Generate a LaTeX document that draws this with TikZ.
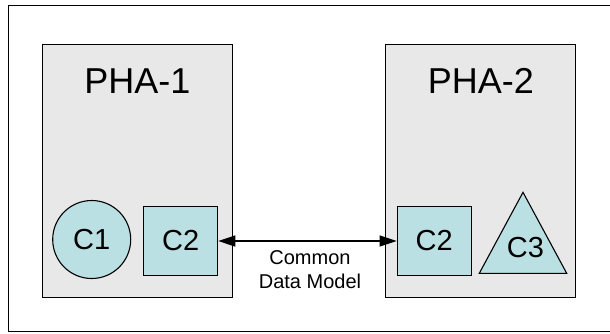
\documentclass[tikz,border=0pt]{standalone}
\usepackage{fontspec}
\setmainfont{Liberation Sans}
\usetikzlibrary{arrows.meta}
\definecolor{boxgray}{HTML}{E8E8E8}
\definecolor{partcyan}{HTML}{BBE0E3}
\begin{document}
\begin{tikzpicture}[x=1pt,y=-1pt,
  phabox/.style={draw,line width=1.1pt,fill=boxgray,minimum width=190pt,minimum height=252.7pt,inner sep=0pt},
  phalabel/.style={inner sep=0pt,font=\fontsize{36}{40}\selectfont},
  part/.style={draw,line width=1.1pt,fill=partcyan,inner sep=0pt,font=\fontsize{29}{33}\selectfont},
  partsq/.style={part,minimum width=74pt,minimum height=69pt},
  link/.style={line width=1.3pt,{Triangle[length=17pt,width=11pt]}-{Triangle[length=17pt,width=11pt]}}]
\useasboundingbox (0,0) rectangle (610,333);
\draw[line width=1.3pt] (8.3,5.7) rectangle (613,331.3);

\node[phabox] (pha1) at (137.3,170.7) {};
\node[phabox] (pha2) at (480.9,170.7) {};
\node[phalabel] (lbl1) at (137.3,81) {PHA-1};
\node[phalabel] (lbl2) at (480.9,81) {PHA-2};

\node[part,circle,minimum size=78pt] (c1) at (91.7,239.5) {C1};
\node[partsq] (c2a) at (180.7,241) {C2};
\node[partsq] (c2b) at (434.2,241) {C2};
\draw[part] (479.3,273.3) -- (523,192.3) -- (566.7,273.3) -- cycle;
\node[inner sep=0pt,font=\fontsize{29}{33}\selectfont] (c3) at (525.5,248) {C3};

\draw[link] (c2a.east) -- (c2b.west);
\node[inner sep=0pt,anchor=north,align=center,font=\fontsize{20}{24}\selectfont] (cdm) at (310,250) {Common\\Data Model};
\end{tikzpicture}
\end{document}
